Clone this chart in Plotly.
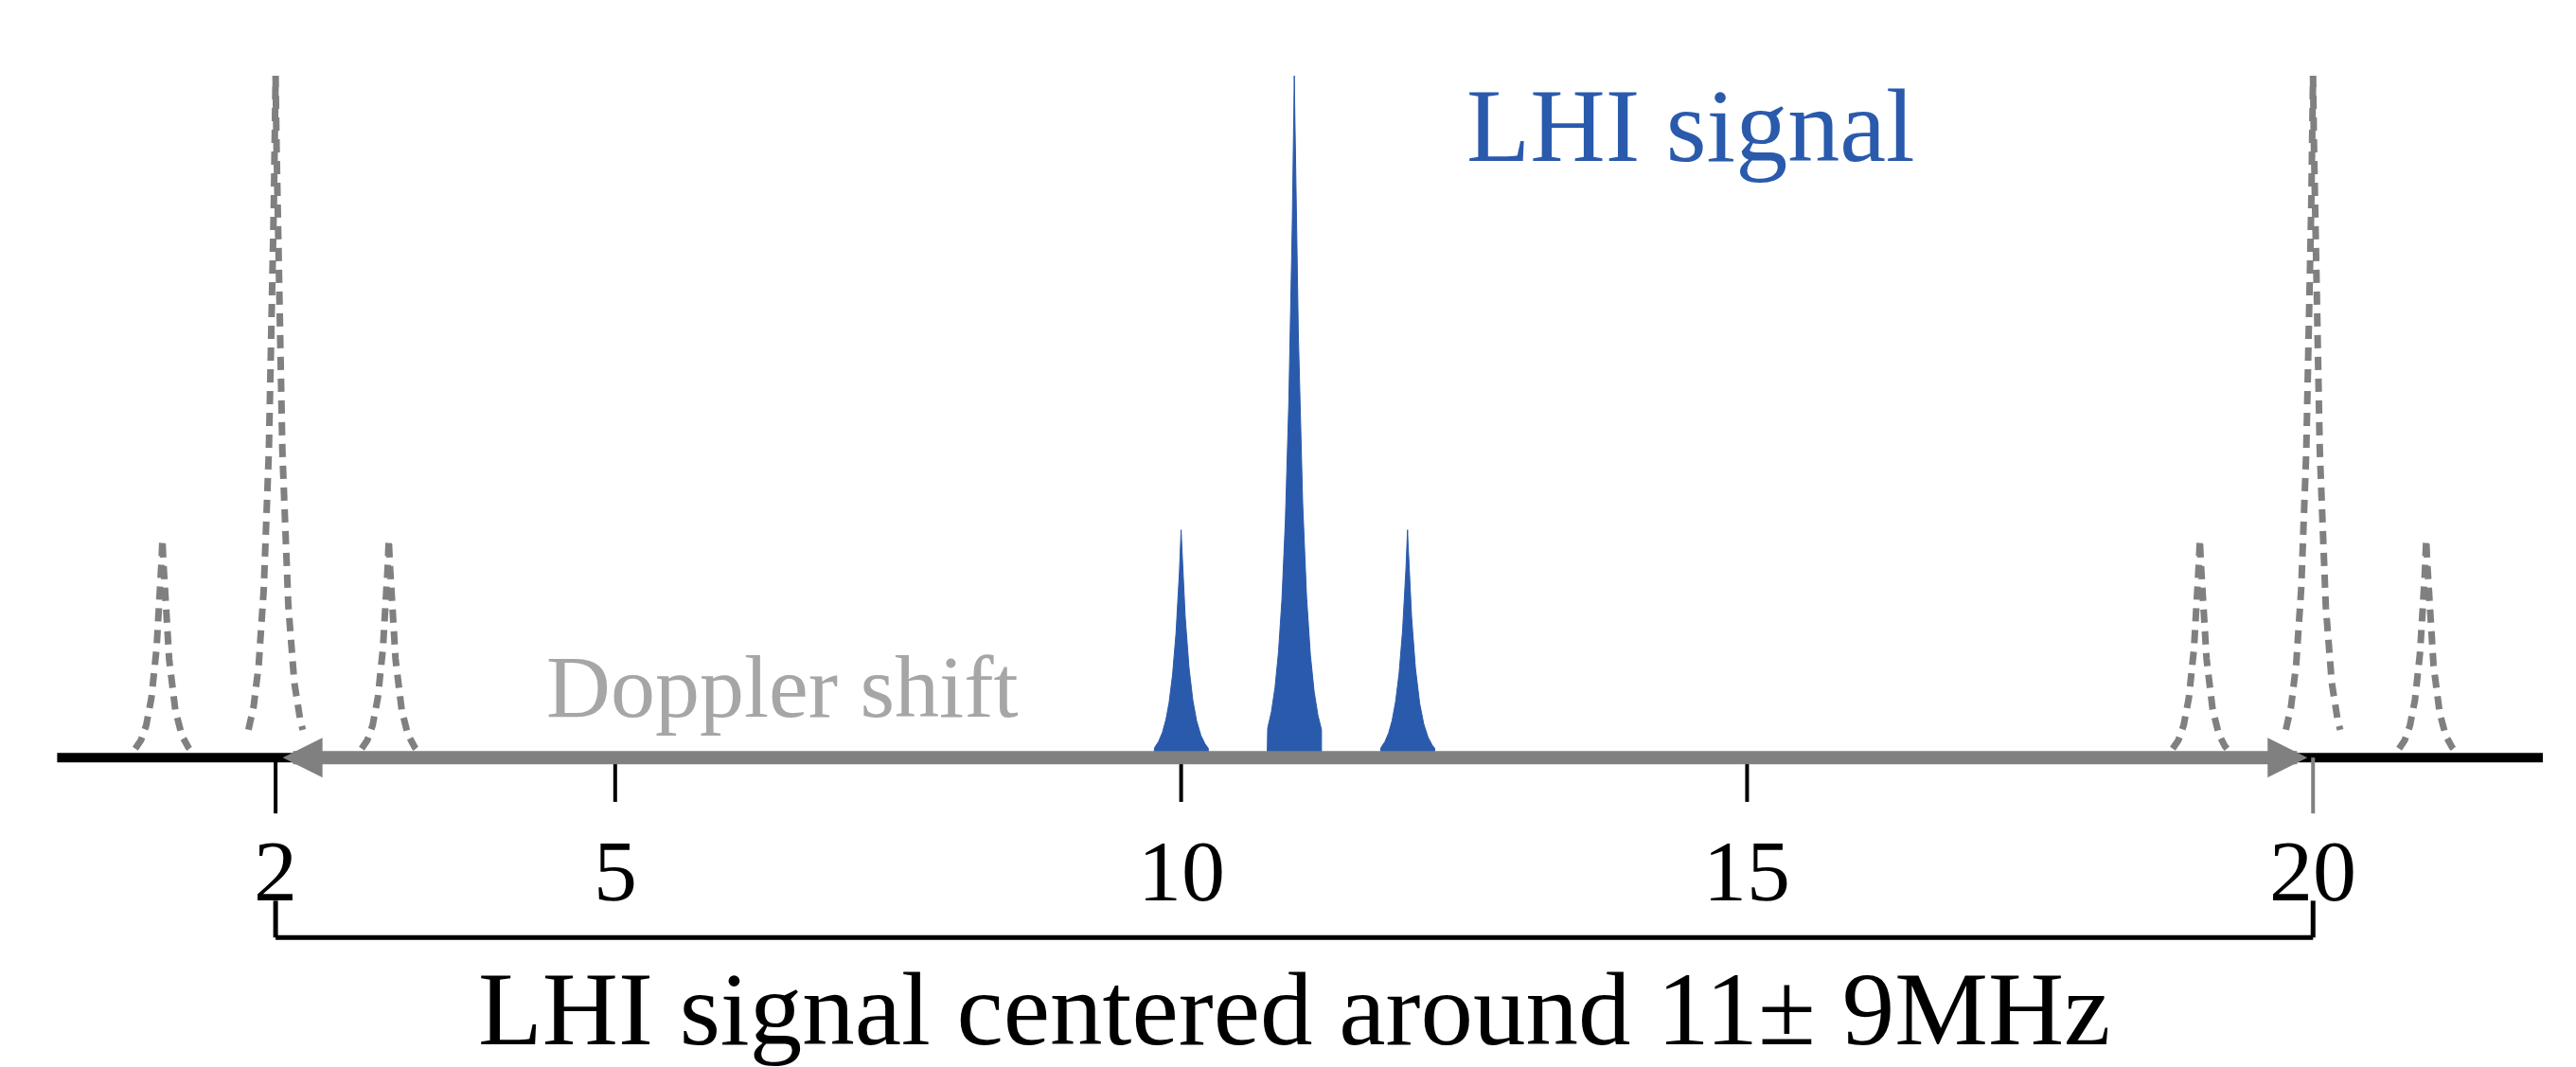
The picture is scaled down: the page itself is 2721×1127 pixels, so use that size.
import numpy as np
import plotly.graph_objects as go

signal_centers = [10, 11, 12]
signal_heights = [0.334, 1.0, 0.334]
alias_centers = [1, 2, 3, 19, 20, 21]
alias_heights = [0.32, 1.0, 0.32, 0.32, 1.0, 0.32]
tick_vals = [2, 5, 10, 15, 20]
tick_text = ["2", "5", "10", "15", "20"]
band_low, band_high = 2, 20

BLUE = "#2a5aac"
GRAY = "#808080"
FONT = "Liberation Serif"

half = 0.24
u = np.linspace(-half, half, 301)
prof = np.exp(-np.abs(u) / 0.075)

fig = go.Figure()
fig.add_trace(go.Scatter(x=[0.07, 22.03], y=[0, 0], mode="lines",
                         line=dict(color="black", width=10), hoverinfo="skip"))
for c, h in zip(alias_centers, alias_heights):
    fig.add_trace(go.Scatter(x=c + u, y=h * prof, mode="lines",
                             line=dict(color=GRAY, width=7, dash="14px,9px"), hoverinfo="skip"))
for c, h in zip(signal_centers, signal_heights):
    fig.add_trace(go.Scatter(x=np.r_[c - half, c + u, c + half], y=np.r_[0, h * prof, 0],
                             mode="lines", fill="toself", fillcolor=BLUE,
                             line=dict(color=BLUE, width=1), hoverinfo="skip"))

shapes = []
for t in tick_vals:
    edge = t in (band_low, band_high)
    shapes.append(dict(type="line", x0=t, x1=t, y0=0, y1=-0.082 if edge else -0.065,
                       line=dict(color=GRAY if t == band_high else "black", width=4)))
for t in (band_low, band_high):
    shapes.append(dict(type="line", x0=t, x1=t, y0=-0.21, y1=-0.264, line=dict(color="black", width=5)))
shapes.append(dict(type="line", x0=band_low, x1=band_high, y0=-0.264, y1=-0.264,
                   line=dict(color="black", width=5)))

ann = []
for t, s in zip(tick_vals, tick_text):
    ann.append(dict(x=t, y=-0.167, text=s, showarrow=False, font=dict(family=FONT, size=92, color="black")))
ann.append(dict(x=band_high - 0.05, y=0, ax=band_low + 0.05, ay=0, axref="x", ayref="y", xref="x", yref="y",
                text="", showarrow=True, arrowside="end+start", arrowhead=2, arrowsize=0.6,
                arrowwidth=14, arrowcolor=GRAY))
ann.append(dict(x=11, y=-0.368, text="LHI signal centered around 11± 9MHz", showarrow=False,
                font=dict(family=FONT, size=111, color="black")))
ann.append(dict(x=14.5, y=0.927, text="LHI signal", showarrow=False,
                font=dict(family=FONT, size=110, color=BLUE)))
ann.append(dict(x=6.48, y=0.104, text="Doppler shift", showarrow=False,
                font=dict(family=FONT, size=94, color="#a6a6a6")))

fig.update_layout(width=2721, height=1127, margin=dict(l=0, r=0, t=0, b=0),
                  paper_bgcolor="white", plot_bgcolor="white", showlegend=False,
                  shapes=shapes, annotations=ann,
                  xaxis=dict(range=[-0.368, 22.39], visible=False),
                  yaxis=dict(range=[-0.465, 1.1], visible=False))
fig.write_html("out.html")
